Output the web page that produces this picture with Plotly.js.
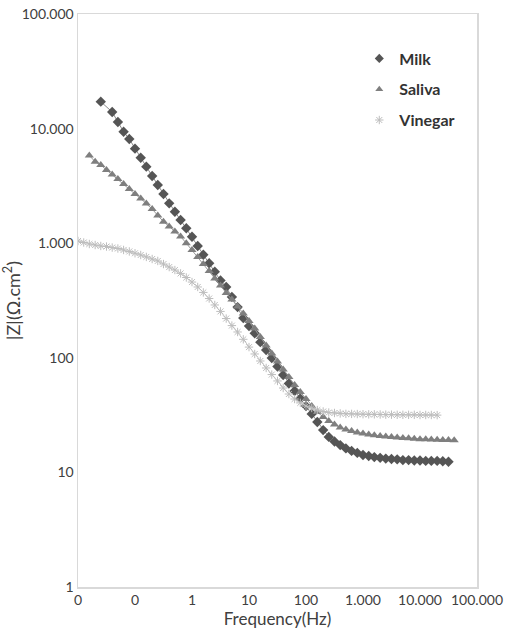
<!DOCTYPE html>
<html>
<head>
<meta charset="utf-8">
<script src="https://cdn.plot.ly/plotly-3.0.1.min.js"></script>
<style>html,body{margin:0;padding:0;background:#fff;}#chart{width:505px;height:634px;}</style>
</head>
<body>
<div id="chart"></div>
<script>
// Frequency (Hz)
var milkFreq = [0.0251, 0.0398, 0.0501, 0.0631, 0.0794, 0.1, 0.126, 0.158, 0.2, 0.251, 0.316, 0.398, 0.501, 0.631, 0.794, 1, 1.26, 1.58,
  2, 2.51, 3.16, 3.98, 5.01, 6.31, 7.94, 10, 12.6, 15.8, 20, 25.1, 31.6, 39.8, 50.1, 63.1, 79.4, 100, 126, 158, 200, 251, 316, 398, 501, 631, 794,
  1000, 1260, 1580, 2000, 2510, 3160, 3980, 5010, 6310, 7940, 10000, 12600, 15800, 20000, 25100, 31600];
var milkZ = [17180, 13960, 11430, 9397, 8110, 6683, 5572, 4656, 3855, 3221, 2685, 2228, 1884, 1592, 1349, 1140, 946, 794,
  668, 564, 473, 415, 340, 277, 222, 189, 164, 137, 117, 99.5, 83.9, 70.8, 59.7, 51.3, 44.2, 37.9, 32.4, 27.5, 23.4, 20.4, 18.6, 17.3, 16.2, 15.4, 14.8,
  14.2, 13.9, 13.6, 13.4, 13.2, 13.1, 13.0, 12.8, 12.8, 12.7, 12.7, 12.6, 12.6, 12.6, 12.5, 12.4];

var salivaFreq = [0.0158, 0.02, 0.0251, 0.0316, 0.0398, 0.0501, 0.0631, 0.0794, 0.1, 0.126, 0.158, 0.2, 0.251, 0.316, 0.398, 0.501, 0.631, 0.794, 1,
  1.26, 1.58, 2, 2.51, 3.16, 3.98, 5.01, 6.31, 7.94, 10, 12.6, 15.8, 20, 25.1, 31.6, 39.8, 50.1, 63.1, 79.4, 100, 126, 158, 200, 251, 316, 398, 501, 631, 794,
  1000, 1260, 1580, 2000, 2510, 3160, 3980, 5010, 6310, 7940, 10000, 12600, 15800, 20000, 25100, 31600, 39800];
var salivaZ = [5821, 5140, 4808, 4355, 3972, 3631, 3289, 2972, 2685, 2455, 2218, 1986, 1746, 1542, 1400, 1265, 1143, 1000, 871,
  759, 659, 571, 492, 428, 367, 323, 281, 244, 209, 180, 152, 128, 109, 92.9, 79.1, 67.9, 57.9, 50.4, 43.7, 37.9, 33.7, 30.4, 28.1, 26.2, 24.7, 23.7, 23.0, 22.3,
  21.8, 21.4, 21.1, 20.8, 20.6, 20.4, 20.2, 20.0, 19.9, 19.7, 19.5, 19.5, 19.4, 19.3, 19.2, 19.2, 19.1];

var vinegarFreq = [0.01, 0.0126, 0.0158, 0.02, 0.0251, 0.0316, 0.0398, 0.0501, 0.0631, 0.0794, 0.1, 0.126, 0.158, 0.2, 0.251, 0.316, 0.398, 0.501, 0.631, 0.794, 1,
  1.26, 1.58, 2, 2.51, 3.16, 3.98, 5.01, 6.31, 7.94, 10, 12.6, 15.8, 20, 25.1, 31.6, 39.8, 50.1, 63.1, 79.4, 100, 126, 158, 200, 251, 316, 398, 501, 631, 794,
  1000, 1260, 1580, 2000, 2510, 3160, 3980, 5010, 6310, 7940, 10000, 12600, 15800, 20000];
var vinegarZ = [1045, 1014, 984, 964, 946, 935, 916, 899, 873, 847, 817, 789, 759, 728, 700, 658, 619, 583, 545, 502, 458,
  415, 372, 329, 289, 254, 220, 191, 168, 145, 124, 108, 93.8, 81.5, 71.4, 62.8, 54.5, 48.3, 43.7, 40.4, 37.9, 36.5, 35.0, 34.0, 33.3, 33.0, 32.7, 32.4, 32.4, 32.3,
  32.2, 32.1, 32.1, 32.0, 31.9, 31.9, 31.8, 31.8, 31.8, 31.8, 31.7, 31.7, 31.7, 31.6];

var seriesNames = ["Milk", "Saliva", "Vinegar"];
var xTickVals = [0.01, 0.1, 1, 10, 100, 1000, 10000, 100000];
var xTickText = ["0", "0", "1", "10", "100", "1.000", "10.000", "100.000"];
var yTickVals = [1, 10, 100, 1000, 10000, 100000];
var yTickText = ["1", "10", "100", "1.000", "10.000", "100.000"];

var markerMilk = {symbol: "diamond", size: 8, color: "#555555"};
var markerSaliva = {symbol: "triangle-up", size: 8, color: "#7f7f7f"};
var markerVinegar = {symbol: "asterisk-open", size: 7, color: "#bdbdbd", line: {color: "#bdbdbd", width: 1}};

var traces = [
  {x: milkFreq, y: milkZ, name: seriesNames[0], type: "scatter", mode: "lines+markers", showlegend: false,
   line: {color: "#8a8a8a", width: 1}, marker: markerMilk},
  {x: salivaFreq, y: salivaZ, name: seriesNames[1], type: "scatter", mode: "lines+markers", showlegend: false,
   line: {color: "#9a9a9a", width: 1}, marker: markerSaliva},
  {x: vinegarFreq, y: vinegarZ, name: seriesNames[2], type: "scatter", mode: "lines+markers", showlegend: false,
   line: {color: "#c8c8c8", width: 1}, marker: markerVinegar},
  // legend-only entries (marker symbols only, as in the reference legend)
  {x: [null], y: [null], name: seriesNames[0], type: "scatter", mode: "markers", legendgroup: "a",
   marker: {symbol: "diamond", size: 7, color: "#555555"}},
  {x: [null], y: [null], name: seriesNames[1], type: "scatter", mode: "markers", legendgroup: "b",
   marker: {symbol: "triangle-up", size: 7, color: "#7f7f7f"}},
  {x: [null], y: [null], name: seriesNames[2], type: "scatter", mode: "markers", legendgroup: "c",
   marker: {symbol: "asterisk-open", size: 7, color: "#bdbdbd", line: {color: "#bdbdbd", width: 1}}}
];

var layout = {
  width: 505, height: 634,
  margin: {l: 78, r: 28, t: 14, b: 47},
  paper_bgcolor: "#ffffff", plot_bgcolor: "#ffffff",
  font: {family: "Lato, 'Open Sans', sans-serif", color: "#404040", size: 14},
  showlegend: true,
  legend: {x: 0.705, y: 0.952, xanchor: "left", yanchor: "top", bgcolor: "rgba(0,0,0,0)",
    traceorder: "grouped", tracegroupgap: 7, itemwidth: 30,
    font: {family: "Lato, sans-serif", size: 16, color: "#333333", weight: "bold"}},
  xaxis: {type: "log", range: [-2, 5], tickvals: xTickVals, ticktext: xTickText,
    showgrid: false, zeroline: false, showline: true, mirror: true, linecolor: "#d9d9d9", linewidth: 1.5,
    ticks: "", tickfont: {size: 14, color: "#404040"},
    title: {text: "Frequency(Hz)", font: {size: 17, color: "#404040"}, standoff: 5}},
  yaxis: {type: "log", range: [0, 5], tickvals: yTickVals, ticktext: yTickText,
    showgrid: false, zeroline: false, showline: true, mirror: true, linecolor: "#d9d9d9", linewidth: 1.5,
    ticks: "", tickfont: {size: 14, color: "#404040"},
    title: {text: "|Z|(Ω.cm<sup>2</sup>)", font: {size: 18, color: "#404040"}, standoff: 4}}
};

Plotly.newPlot("chart", traces, layout, {displayModeBar: false, staticPlot: true});
</script>
</body>
</html>
